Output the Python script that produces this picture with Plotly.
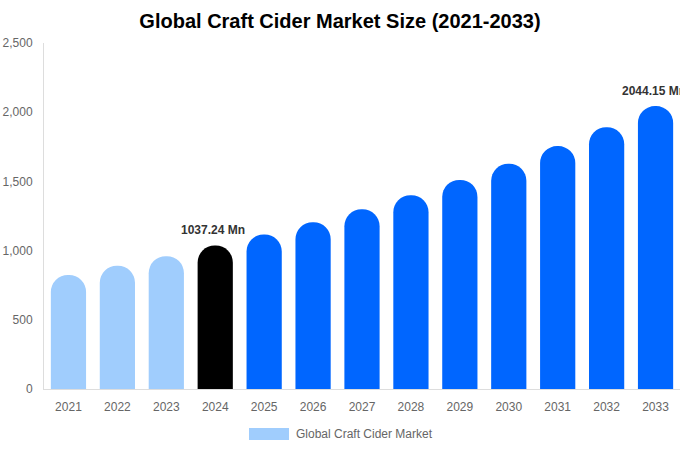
import plotly.graph_objects as go

years = ["2021", "2022", "2023", "2024", "2025", "2026", "2027", "2028",
         "2029", "2030", "2031", "2032", "2033"]
market_size = [824, 890, 960, 1037.24, 1117, 1205, 1299, 1400,
               1511, 1627, 1755, 1892, 2044.15]
bar_colors = ["#a0cdfd", "#a0cdfd", "#a0cdfd", "#000000",
              "#0066ff", "#0066ff", "#0066ff", "#0066ff", "#0066ff",
              "#0066ff", "#0066ff", "#0066ff", "#0066ff"]
label_years = ["2024", "2033"]
label_texts = ["1037.24 Mn", "2044.15 Mn"]
y_ticks = [0, 500, 1000, 1500, 2000, 2500]
series_name = "Global Craft Cider Market"
title = "Global Craft Cider Market Size (2021-2033)"

font_family = "Liberation Sans, Arial, sans-serif"

fig = go.Figure()
fig.add_trace(go.Bar(
    x=years, y=market_size, marker=dict(color=bar_colors, line=dict(width=0)),
    name=series_name, showlegend=False, hoverinfo="x+y",
))

for yr, txt in zip(label_years, label_texts):
    idx = years.index(yr)
    fig.add_annotation(
        x=idx, y=market_size[idx], text="<b>" + txt + "</b>",
        showarrow=False, yshift=15, xshift=-2, yanchor="middle",
        font=dict(size=12, color="#333333", family=font_family),
    )

# legend swatch + label
fig.add_shape(type="rect", xref="paper", yref="paper",
              x0=(249 - 44) / 636, x1=(289 - 44) / 636,
              y0=-(440 - 389) / 346, y1=-(428 - 389) / 346,
              fillcolor="#a0cdfd", line=dict(width=0))
fig.add_annotation(xref="paper", yref="paper", x=(294 - 44) / 636, y=-(434 - 389) / 346,
                   xanchor="left", yanchor="middle", showarrow=False,
                   text=series_name, font=dict(size=12, color="#666666", family=font_family))

fig.update_layout(
    width=680, height=450,
    margin=dict(l=44, r=0, t=43, b=61),
    paper_bgcolor="white", plot_bgcolor="white",
    font=dict(family=font_family, color="#666666", size=12),
    title=dict(text="<b>" + title + "</b>", x=0.5, xanchor="center",
               y=1 - 21 / 450, yanchor="middle",
               font=dict(size=20, color="#000000", family=font_family)),
    bargap=0.28,
    barcornerradius="50%",
    xaxis=dict(type="category", range=[-0.5, len(years) - 0.5],
               showline=True, linecolor="#dddddd", linewidth=1, showgrid=False,
               ticks="outside", ticklen=7, tickcolor="rgba(0,0,0,0)",
               tickfont=dict(size=12, color="#666666")),
    yaxis=dict(range=[0, 2500], tickvals=y_ticks, tickformat=",d",
               showline=True, linecolor="#dddddd", linewidth=1, showgrid=False,
               zeroline=False, ticks="outside", ticklen=8, tickcolor="rgba(0,0,0,0)",
               tickfont=dict(size=12, color="#666666")),
)

fig.write_html("out.html", config={"displayModeBar": False},
               post_script="document.body.style.margin='0';")
